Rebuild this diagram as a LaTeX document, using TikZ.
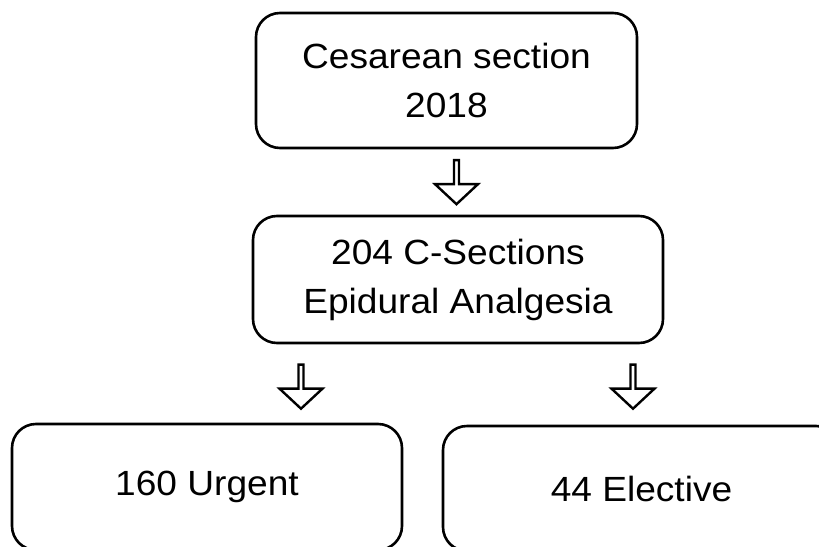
\documentclass[tikz,border=0pt]{standalone}
\usepackage{fontspec}
\setmainfont{Liberation Sans}[FakeStretch=1.06]
\usetikzlibrary{shapes.arrows}

\begin{document}
\begin{tikzpicture}[x=1pt,y=-1pt]
\useasboundingbox (0,0) rectangle (819,546);
\clip (0,0) rectangle (819,546);
\begin{scope}[every node/.style={draw,line width=2.6pt,rounded corners=24pt,align=center,font=\fontsize{35}{49}\selectfont,inner sep=0pt}]
    \node[minimum width=381pt,minimum height=135pt] (cs) at (446.5,80.5) {Cesarean section\\2018};
    \node[minimum width=410pt,minimum height=127pt] (epi) at (458,279.5) {204 C-Sections\\Epidural Analgesia};
    \node[minimum width=390pt,minimum height=126pt] (urg) at (207,487) {160 Urgent};
    \node[minimum width=397pt,minimum height=125pt] (ele) at (641.5,488.5) {44 Elective};
\end{scope}

\begin{scope}[every node/.style={single arrow,draw,line width=2.4pt,rotate=-90,minimum height=44pt,minimum width=43pt,single arrow head extend=9pt,single arrow tip angle=94,inner sep=0pt}]
    \node (a1) at (456.5,181) {};
    \node (a2) at (301,385.5) {};
    \node (a3) at (633,385.5) {};
\end{scope}
\end{tikzpicture}
\end{document}
